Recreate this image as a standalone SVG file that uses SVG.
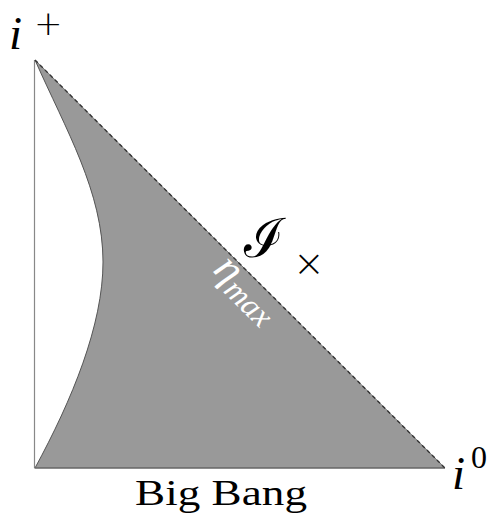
<svg xmlns="http://www.w3.org/2000/svg" width="497" height="516" viewBox="0 0 497 516">
<style>
.lbl{font-family:"Liberation Serif","DejaVu Serif",serif;fill:#000}
.sym{font-family:"DejaVu Sans",sans-serif;fill:#000}
.it{font-style:italic}
.wh{font-family:"Liberation Serif","DejaVu Serif",serif;font-style:italic;fill:#fff}
</style>
<rect width="497" height="516" fill="#fff"/>
<g id="region">
<path d="M35,60 C66,130 103,192 103,262 C103,325 72,400 35,468 L445,468 Z" fill="#999" stroke="none"/>
<path d="M35,60 C66,130 103,192 103,262 C103,325 72,400 35,468" fill="none" stroke="#555" stroke-width="1"/>
</g>
<g id="connectors">
<line x1="34.5" y1="60" x2="34.5" y2="468" stroke="#888" stroke-width="1.2"/>
<line x1="34.5" y1="468" x2="445" y2="468" stroke="#666" stroke-width="1.6"/>
<line x1="35" y1="60" x2="445" y2="468" stroke="#777" stroke-width="1"/>
<line x1="35" y1="60" x2="445" y2="468" stroke="#333" stroke-width="1.4" stroke-dasharray="4 3"/>
</g>
<g id="i-plus">
<text class="lbl it" x="9" y="49" font-size="47">i</text>
<text class="sym" x="34" y="35" font-size="34" font-weight="200">+</text>
</g>
<g id="i-zero">
<text class="lbl it" x="452" y="489" font-size="47">i</text>
<text class="lbl" x="471" y="468" font-size="32">0</text>
</g>
<g id="big-bang">
<text class="lbl" x="135" y="505" font-size="36" textLength="172" lengthAdjust="spacingAndGlyphs">Big Bang</text>
</g>
<g id="scri">
<text class="lbl" x="244" y="257" font-size="54" font-family="DejaVu Serif">ℐ</text>
<text class="sym" x="293" y="276" font-size="38" font-weight="200">×</text>
</g>
<g id="eta-max">
<text class="wh" transform="translate(212,271) rotate(45)" font-size="44">η<tspan font-size="32" dy="7">max</tspan></text>
</g>
</svg>
